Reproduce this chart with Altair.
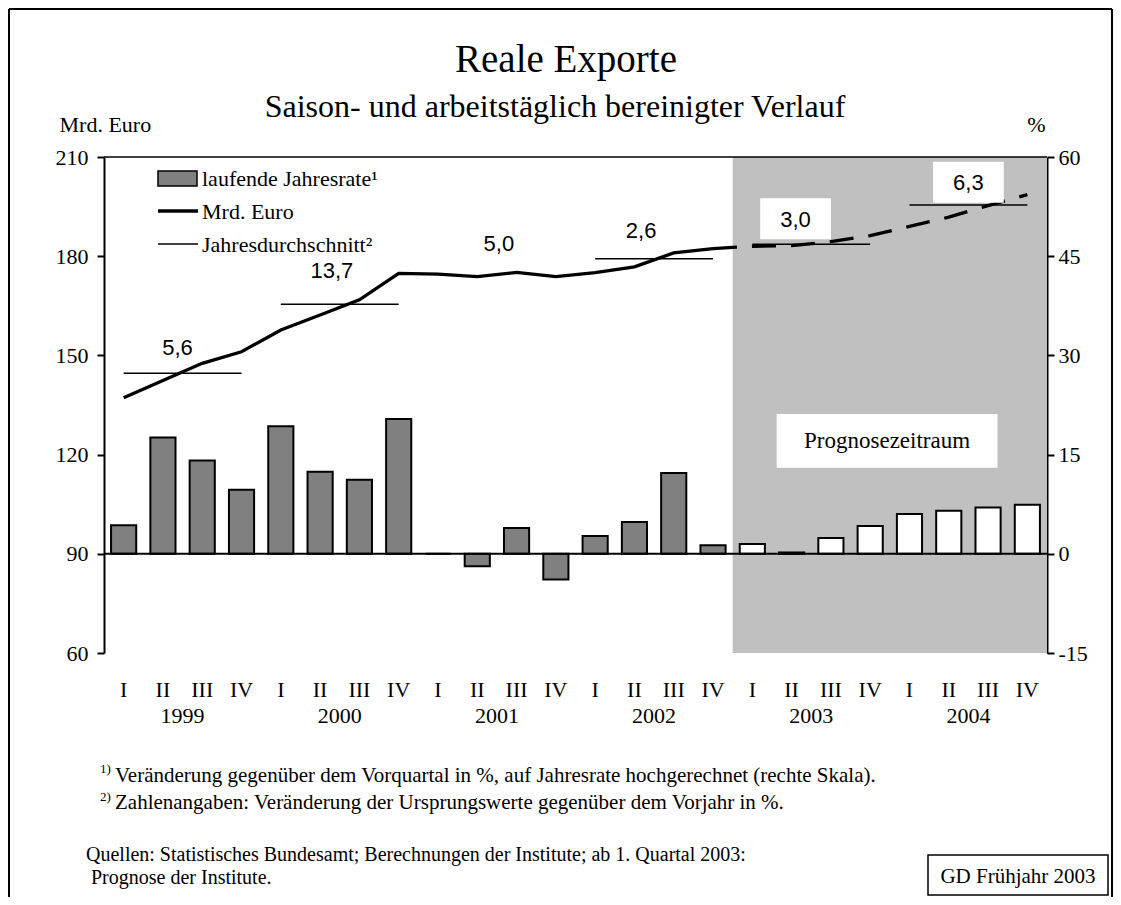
import altair as alt
import pandas as pd

# ---------------- data ----------------
quarter_labels = ["I", "II", "III", "IV"] * 6
year_labels = ["1999", "2000", "2001", "2002", "2003", "2004"]
# laufende Jahresrate, % (right scale)
rate_pct = [4.3, 17.6, 14.1, 9.7, 19.3, 12.4, 11.2, 20.4,
            0.0, -1.9, 3.9, -3.9, 2.7, 4.8, 12.2, 1.3,
            1.5, 0.2, 2.4, 4.2, 6.0, 6.5, 7.0, 7.4]
# Mrd. Euro (left scale)
level_bn = [137.2, 142.4, 147.6, 151.1, 157.7, 162.2, 166.8, 174.8,
            174.6, 173.8, 175.1, 173.8, 175.0, 176.8, 181.0, 182.3,
            183.0, 183.2, 184.4, 186.2, 189.0, 191.8, 195.3, 198.6]
# Jahresdurchschnitt (level), drawn for these years
avg_year_index = [0, 1, 3, 4, 5]
avg_level = [144.6, 165.5, 179.2, 183.6, 195.5]
# annual growth labels
growth_text = ["5,6", "13,7", "5,0", "2,6", "3,0", "6,3"]
forecast_first_quarter = 16
left_ticks = [60, 90, 120, 150, 180, 210]
right_ticks = [-15, 0, 15, 30, 45, 60]

# ---------------- annotation anchors (data units) ----------------
label_x = [1.87, 5.8, 10.05, 13.67, 17.6, 22.0]
label_y = [150.1, 173.4, 181.6, 185.5, 188.9, 200.0]
label_boxed = [False, False, False, False, True, True]

W, H = 943, 496
SERIF = "Liberation Serif"
SANS = "Liberation Sans"

q = pd.DataFrame({"i": list(range(24)), "q": quarter_labels,
                  "rate": rate_pct, "level": level_bn})
q["kind"] = ["Prognose" if i >= forecast_first_quarter else "Ist" for i in q["i"]]

xs = alt.Scale(domain=[0, 24], nice=False, zero=False)
ys = alt.Scale(domain=[60, 210], nice=False, zero=False)
one = pd.DataFrame({"a": [0]})


def X(f, **kw):
    return alt.X(f, type="quantitative", scale=xs, axis=None, **kw)


def Y(f, **kw):
    return alt.Y(f, type="quantitative", scale=ys, axis=None, **kw)


def txt(s, x, y, size=21, font=SERIF, align="left", baseline="alphabetic"):
    return alt.Chart(one).mark_text(text=s, align=align, baseline=baseline, font=font,
                                    fontSize=size, color="black").encode(
        x=alt.value(x), y=alt.value(y))


def vrule(x, y0, y1, w=2):
    return alt.Chart(one).mark_rule(color="black", strokeWidth=w).encode(
        x=alt.value(x), y=alt.value(y0), y2=alt.value(y1))


def hrule(y, x0, x1, w=2):
    return alt.Chart(one).mark_rule(color="black", strokeWidth=w).encode(
        y=alt.value(y), x=alt.value(x0), x2=alt.value(x1))


axis_common = dict(tickSize=7, tickWidth=2, tickColor="black", domainColor="black", domainWidth=2,
                   grid=False, labelFont=SERIF, labelFontSize=22, labelColor="black",
                   titleAngle=0, titleBaseline="alphabetic", titleY=-26, titleFont=SERIF,
                   titleFontSize=22, titleFontWeight="normal", titleColor="black")

x_axis = alt.Axis(values=list(range(25)), labels=False, ticks=True, tickSize=9, tickWidth=2,
                  tickColor="black", domainColor="black", domainWidth=2, grid=False, title="")
left_axis = alt.Axis(values=left_ticks, labelPadding=9, title="Mrd. Euro", titleAlign="left",
                     titleX=-45, **axis_common)
right_axis = alt.Axis(values=[90 + 2 * v for v in right_ticks], orient="right", labelPadding=4,
                      labelExpr="'' + ((datum.value - 90) / 2)", title="%", titleAlign="right",
                      titleX=-2, **axis_common)

# axis carriers (invisible)
axis_left_layer = alt.Chart(q).transform_calculate(xc="datum.i + 0.5").mark_point(opacity=0).encode(
    x=alt.X("xc:Q", scale=xs, axis=x_axis),
    y=alt.Y("level:Q", scale=ys, axis=left_axis))
axis_right_layer = alt.Chart(q).transform_calculate(
    xc="datum.i + 0.5", yr="90 + 2 * datum.rate").mark_point(opacity=0).encode(
    x=X("xc"), y=alt.Y("yr:Q", scale=ys, axis=right_axis))

# forecast shading
grey = alt.Chart(pd.DataFrame({"x0": [forecast_first_quarter], "x1": [24]})).mark_rect(
    color="#c0c0c0").encode(x=X("x0"), x2="x1", y=alt.value(0), y2=alt.value(H))

prog_box = alt.Chart(pd.DataFrame({"x0": [17.12], "x1": [22.74], "y0": [116.0], "y1": [132.3]})).mark_rect(
    color="white").encode(x=X("x0"), x2="x1", y=Y("y0"), y2="y1")
prog_text = alt.Chart(pd.DataFrame({"x": [19.93], "y": [122.0], "t": ["Prognosezeitraum"]})).mark_text(
    font=SERIF, fontSize=23, color="black", align="center", baseline="alphabetic").encode(
    x=X("x"), y=Y("y"), text="t:N")

bars = alt.Chart(q).transform_calculate(
    x0="datum.i + 0.18", x1="datum.i + 0.82",
    yb="90 + 2 * datum.rate", ybase="90"
).mark_rect(stroke="black", strokeWidth=2).encode(
    x=X("x0"), x2="x1", y=Y("yb"), y2="ybase",
    color=alt.Color("kind:N", scale=alt.Scale(domain=["Ist", "Prognose"], range=["#808080", "white"]),
                    legend=None))

zero = alt.Chart(pd.DataFrame({"x0": [0], "x1": [24], "y": [90]})).mark_rule(
    color="black", strokeWidth=2).encode(x=X("x0"), x2="x1", y=Y("y"))

avg_df = pd.DataFrame({"k": avg_year_index, "v": avg_level})
avg = alt.Chart(avg_df).transform_calculate(
    x0="datum.k * 4 + 0.5", x1="datum.k * 4 + 3.5"
).mark_rule(color="black", strokeWidth=1.5).encode(x=X("x0"), x2="x1", y=Y("v"))

solid = alt.Chart(q[q["i"] <= forecast_first_quarter - 1]).transform_calculate(
    xc="datum.i + 0.5").mark_line(color="black", strokeWidth=3.3, strokeCap="butt").encode(
    x=X("xc"), y=Y("level"))
dashed = alt.Chart(q[q["i"] >= forecast_first_quarter - 1]).transform_calculate(
    xc="datum.i + 0.5").mark_line(color="black", strokeWidth=3.3, strokeDash=[24, 15],
                                  strokeCap="butt").encode(x=X("xc"), y=Y("level"))

lab_df = pd.DataFrame({"x": label_x, "y": label_y, "t": growth_text, "boxed": label_boxed})
lab_boxes = alt.Chart(lab_df[lab_df["boxed"]]).transform_calculate(
    x0="datum.x - 0.9", x1="datum.x + 0.9", y0="datum.y - 3.8", y1="datum.y + 8.6"
).mark_rect(color="white").encode(x=X("x0"), x2="x1", y=Y("y0"), y2="y1")
labels = alt.Chart(lab_df).mark_text(font=SANS, fontSize=22, color="black", align="center",
                                     baseline="alphabetic").encode(x=X("x"), y=Y("y"), text="t:N")

top_line = hrule(0, 0, W, 1.5)

# legend inside the plot
leg_swatch = alt.Chart(one).mark_rect(fill="#808080", stroke="black", strokeWidth=1.5).encode(
    x=alt.value(54), x2=alt.value(93), y=alt.value(14), y2=alt.value(29))
leg_line1 = hrule(54, 54, 94, 3.3)
leg_line2 = hrule(87, 54, 94, 1.5)
leg_t1 = txt("laufende Jahresrate¹", 98, 29, size=22)
leg_t2 = txt("Mrd. Euro", 98, 62, size=22)
leg_t3 = txt("Jahresdurchschnitt²", 98, 95, size=22)

# x labels
qlab = alt.Chart(q).transform_calculate(xc="datum.i + 0.5").mark_text(
    font=SERIF, fontSize=22, color="black", align="center", baseline="alphabetic").encode(
    x=X("xc"), y=alt.value(540), text="q:N")
ylab = alt.Chart(pd.DataFrame({"k": list(range(6)), "y": year_labels})).transform_calculate(
    xc="datum.k * 4 + 2").mark_text(
    font=SERIF, fontSize=22, color="black", align="center", baseline="alphabetic").encode(
    x=X("xc"), y=alt.value(566), text="y:N")

# titles and notes
title = txt("Reale Exporte", 462, -85, size=39, align="center")
subtitle = txt("Saison- und arbeitstäglich bereinigter Verlauf", 451, -40, size=32, align="center")
fn1s = txt("1)", -4, 616, size=13)
fn1 = txt("Veränderung gegenüber dem Vorquartal in %, auf Jahresrate hochgerechnet (rechte Skala).", 11, 625)
fn2s = txt("2)", -4, 644, size=13)
fn2 = txt("Zahlenangaben: Veränderung der Ursprungswerte gegenüber dem Vorjahr in %.", 11, 652)
src1 = txt("Quellen: Statistisches Bundesamt; Berechnungen der Institute; ab 1. Quartal 2003:", -18, 704, size=20)
src2 = txt("Prognose der Institute.", -13, 727, size=20)
gd_box = alt.Chart(one).mark_rect(fill="white", stroke="black", strokeWidth=1.5).encode(
    x=alt.value(824), x2=alt.value(1004), y=alt.value(698), y2=alt.value(738))
gd_text = txt("GD Frühjahr 2003", 914, 726, align="center")

frame_l = vrule(-95, -148, 740, 2)
frame_r = vrule(1008, -148, 740, 2)
frame_t = hrule(-148, -95, 1008, 2)

chart = alt.layer(
    axis_left_layer, axis_right_layer,
    grey, prog_box, prog_text, bars, zero, avg, solid, dashed, lab_boxes, labels, top_line,
    leg_swatch, leg_line1, leg_line2, leg_t1, leg_t2, leg_t3, qlab, ylab,
    title, subtitle, fn1s, fn1, fn2s, fn2, src1, src2, gd_box, gd_text,
    frame_l, frame_r, frame_t
).resolve_axis(y="independent").properties(
    width=W, height=H,
    autosize=alt.AutoSizeParams(type="none"),
    padding={"left": 96, "top": 149, "right": 66, "bottom": 244},
    background="white",
).configure_view(stroke=None).configure_axis(zindex=1)

chart.save("out.html", embed_options={"renderer": "svg", "actions": False})
